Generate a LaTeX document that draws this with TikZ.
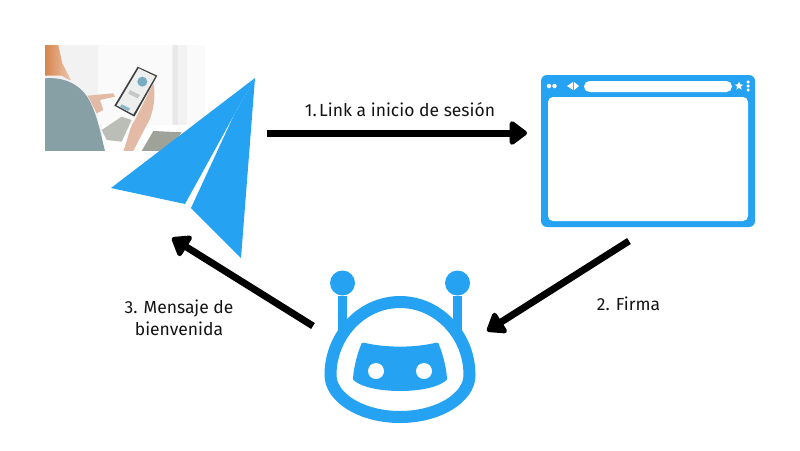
\documentclass[tikz,border=0pt]{standalone}
\usepackage{fontspec}
\setmainfont{Fira Sans}
\usetikzlibrary{calc, shapes.geometric, arrows.meta}
\definecolor{skyblue}{RGB}{37,163,242}
\definecolor{skin}{RGB}{226,186,165}
\definecolor{shirt}{RGB}{134,160,165}
\definecolor{hair}{RGB}{214,132,76}
\definecolor{cloth}{RGB}{158,162,152}

\begin{document}
\begin{tikzpicture}[x=1pt, y=-1pt]
    \tikzstyle{flow} = [line width=7pt, -{Triangle[length=19pt, width=27pt, round]}]
    \tikzstyle{label} = [font=\fontsize{17.5}{22}\selectfont, text=black!92, align=center]
    \tikzstyle{spot} = [circle, fill=white, inner sep=0pt]
    \tikzstyle{ball} = [circle, fill=skyblue, inner sep=0pt, minimum size=25pt]
    \tikzstyle{mast} = [line width=9.5pt, draw=skyblue]

    \useasboundingbox (0, 0) rectangle (800, 450);

    % Photo ----------------------------------------
    \begin{scope}[shift={(45, 45)}, x=.3333pt, y=-.3333pt]
        \clip (0, 0) rectangle (480, 318);
        \fill[black!5] (0, 0) rectangle (480, 318);
        \fill[black!2] (160, 0) rectangle (380, 240);
        \fill[black!9] (385, 0) rectangle (400, 250);
        \fill[black!2] (425, 0) rectangle (480, 240);
        \fill[white] (170, 240) -- (480, 240) -- (480, 318) -- (170, 318) -- cycle;
        % hair and shoulder
        \shade[left color=hair, right color=hair!45] (0, 0) -- (40, 0) -- (52, 55) -- (78, 105) -- (0, 98) -- cycle;
        \fill[black!6] (0, 92) -- (50, 92) -- (80, 110) -- (0, 110) -- cycle;
        \fill[shirt] (0, 100) .. controls (60, 95) and (110, 120) .. (135, 170) ..
            controls (160, 220) and (170, 280) .. (180, 318) -- (0, 318) -- cycle;
        % trousers
        \fill[cloth!70] (170, 255) -- (230, 215) -- (260, 225) -- (230, 290) -- (185, 285) -- cycle;
        \fill[cloth] (290, 318) -- (325, 258) -- (410, 262) -- (370, 318) -- cycle;
        % hand
        \fill[skin] (128, 152) -- (205, 145) -- (210, 155) -- (165, 165) -- (175, 195) --
            (155, 205) -- (140, 175) -- cycle;
        \fill[skin] (235, 318) .. controls (250, 280) and (255, 240) .. (270, 225) --
            (325, 115) .. controls (335, 160) and (320, 220) .. (305, 240) -- (265, 318) -- cycle;
        % phone
        \fill[black!75] (278, 65) -- (337, 92) -- (268, 215) -- (208, 182) -- cycle;
        \fill[cyan!6!black!8] (281, 70) -- (331, 94) -- (265, 208) -- (215, 181) -- cycle;
        \fill[cyan!60!black!65] (292, 110) circle (15);
        \fill[black!22] (255, 135) -- (285, 150) -- (278, 160) -- (250, 146) -- cycle;
        \fill[cyan!60!black!55] (230, 178) -- (255, 190) -- (250, 198) -- (225, 186) -- cycle;
    \end{scope}
    % ---------------------------------------------------

    % Plane
    \coordinate (plane_top) at (255, 78);
    \coordinate (plane_slit) at (234, 115);
    \fill[skyblue] (plane_top) -- (111, 188) -- (185, 204) -- (plane_slit) -- cycle;
    \fill[skyblue] (plane_top) -- (plane_slit) -- (191, 208) -- (241, 258) -- cycle;

    % Browser window
    \node (browser) at (648, 151) [rectangle, rounded corners=6pt, fill=skyblue,
        minimum width=214pt, minimum height=152pt, inner sep=0pt] {};
    \node (page) at (648, 159) [rectangle, rounded corners=5pt, fill=white,
        minimum width=200pt, minimum height=124pt, inner sep=0pt] {};
    \node (address) at (658, 86.5) [rectangle, rounded corners=5.5pt, fill=white,
        minimum width=148pt, minimum height=11pt, inner sep=0pt] {};
    \node (dot_a) at (549, 86) [spot, minimum size=4.5pt] {};
    \node (dot_b) at ($(dot_a) + (5.5, 0)$) [spot, minimum size=4.5pt] {};
    \fill[white] (567, 86) -- (573, 82) -- (573, 90) -- cycle;
    \fill[white] (579, 86) -- (574, 82) -- (574, 90) -- cycle;
    \node (star) at (739, 86) [star, star points=5, star point ratio=2.3, fill=white,
        inner sep=0pt, minimum size=9pt] {};
    \node (menu_a) at (748, 82) [spot, minimum size=3.5pt] {};
    \node (menu_b) at ($(menu_a) + (0, 4)$) [spot, minimum size=3.5pt] {};
    \node (menu_c) at ($(menu_b) + (0, 4)$) [spot, minimum size=3.5pt] {};

    % Robot
    \node (ball_l) at (342.5, 283) [ball] {};
    \node (ball_r) at (457.5, 283) [ball] {};
    \draw[mast] (ball_l) -- ($(ball_l) + (0, 50)$);
    \draw[mast] (ball_r) -- ($(ball_r) + (0, 50)$);
    \draw[line width=12pt, draw=skyblue] (330.5, 375) .. controls (330.5, 335) and (362, 302) .. (400, 302) ..
        controls (438, 302) and (469.5, 335) .. (469.5, 375) ..
        controls (469.5, 398) and (438, 417) .. (400, 417) ..
        controls (362, 417) and (330.5, 398) .. (330.5, 375) -- cycle;
    \filldraw[skyblue, line width=3pt, line join=round] (363, 344) .. controls (385, 349.5) and (415, 349.5) .. (437, 344) ..
        controls (441, 353) and (445, 368) .. (445.5, 379) ..
        controls (430, 393) and (370, 393) .. (354.5, 379) ..
        controls (355, 368) and (359, 353) .. (363, 344) -- cycle;
    \node (eye_l) at (376, 371) [spot, minimum size=16pt] {};
    \node (eye_r) at ($(eye_l) + (48, 0)$) [spot, minimum size=16pt] {};

    % Connectors
    \coordinate (link_from) at (267, 133);
    \coordinate (link_to) at (527, 133);
    \coordinate (sign_from) at (629, 241);
    \coordinate (sign_to) at (487, 331);
    \coordinate (hello_from) at (313, 326);
    \coordinate (hello_to) at (172, 238);
    \draw[flow] (link_from) -- (link_to);
    \draw[flow] (sign_from) -- (sign_to);
    \draw[flow] (hello_from) -- (hello_to);

    % Labels
    \node (link_label) at (400, 116) [label, anchor=base] {1.\kern2.5pt Link a inicio de sesión};
    \node (sign_label) at (628.5, 310) [label, anchor=base] {2. Firma};
    \node (hello_label) at (179, 318) [label] {3. Mensaje de\\bienvenida};
\end{tikzpicture}
\end{document}
